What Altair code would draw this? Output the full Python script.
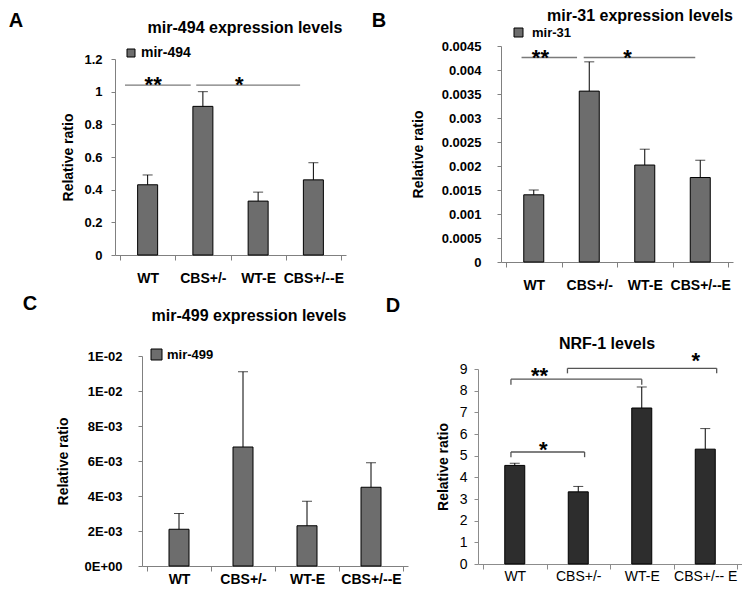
import altair as alt
import pandas as pd

FONT = "Liberation Sans"

# ---------------- data ----------------
CATS = ["WT", "CBS+/-", "WT-E", "CBS+/--E"]
CATS_D = ["WT", "CBS+/-", "WT-E", "CBS+/-- E"]

A_MEAN = [0.43, 0.91, 0.33, 0.46]
A_TOP = [0.49, 1.0, 0.385, 0.565]
B_MEAN = [0.0014, 0.00356, 0.00202, 0.00176]
B_TOP = [0.0015, 0.00417, 0.00235, 0.00212]
C_MEAN = [0.0021, 0.0068, 0.0023, 0.0045]
C_TOP = [0.0030, 0.0111, 0.0037, 0.0059]
D_MEAN = [4.55, 3.33, 7.2, 5.3]
D_TOP = [4.65, 3.58, 8.17, 6.25]

A_TICKS = [0, 0.2, 0.4, 0.6, 0.8, 1.0, 1.2]
B_TICKS = [0, 0.0005, 0.001, 0.0015, 0.002, 0.0025, 0.003, 0.0035, 0.004, 0.0045]
C_TICKS = [0, 0.002, 0.004, 0.006, 0.008, 0.010, 0.012]
C_TICK_LABELS = ["0E+00", "2E-03", "4E-03", "6E-03", "8E-03", "1E-02", "1E-02"]
D_TICKS = [0, 1, 2, 3, 4, 5, 6, 7, 8, 9]
X_TICKS = [0, 0.5, 1, 1.5, 2, 2.5, 3, 3.5, 4]  # category edges + centres

# significance marks, x in category units (0..4), y in data units
A_SIG_LINES = [[0.09, 1.28, 1.04, 1.04], [1.38, 3.26, 1.04, 1.04]]
A_SIG_STARS = [[0.60, 1.067, "**"], [2.16, 1.067, "*"]]
B_SIG_LINES = [[0.28, 1.28, 0.00426, 0.00426], [1.40, 3.41, 0.00426, 0.00426]]
B_SIG_STARS = [[0.62, 0.00433, "**"], [2.19, 0.00433, "*"]]
D_SIG_LINES = [
    [0.44, 2.5, 8.53, 8.53], [0.44, 0.44, 8.53, 8.27], [2.5, 2.5, 8.53, 8.27],
    [1.33, 3.68, 9.03, 9.03], [1.33, 1.33, 9.03, 8.8], [3.68, 3.68, 9.03, 8.8],
    [0.44, 1.6, 5.17, 5.17], [0.44, 0.44, 5.17, 4.93], [1.6, 1.6, 5.17, 4.93],
]
D_SIG_STARS = [[0.89, 8.86, "**"], [3.35, 9.55, "*"], [0.95, 5.45, "*"]]

W, H = 734, 580


def js_array(items):
    return "[" + ",".join("'" + s + "'" for s in items) + "]"


def make_panel(cats, mean, top, ticks, ydom, xr, yr, title, title_xy, letter, letter_xy,
               fill, bold, series=None, legend_xy=None, legend_sym=64, legend_off=3,
               legend_size=13, sig_lines=None, sig_stars=None, sig_color="#7a7a7a",
               label_expr=None, y_lab_pad=8, y_title_pad=8, x_lab_pad=11,
               axis_color="#808080", lab_size=13, xlab_size=14):
    weight = "bold" if bold else "normal"
    df = pd.DataFrame({"group": cats, "pos": [i + 0.5 for i in range(len(cats))],
                       "mean": mean, "top": top})
    if series:
        df["series"] = series
    xs = alt.Scale(domain=[0, 4], range=xr, nice=False, zero=False)
    ys = alt.Scale(domain=ydom, range=yr, nice=False)
    yaxis_kw = dict(orient="left", offset=-xr[0], values=ticks, title="Relative ratio",
                    titleFont=FONT, titleFontSize=14, titleFontWeight="bold", titleColor="black",
                    titlePadding=y_title_pad, labelFont=FONT, labelFontSize=lab_size,
                    labelFontWeight=weight, labelColor="black", labelPadding=y_lab_pad,
                    tickSize=4, domainColor=axis_color, tickColor=axis_color, grid=False)
    if label_expr:
        yaxis_kw["labelExpr"] = label_expr
    else:
        yaxis_kw["format"] = "~g"
    x_expr = "datum.value % 1 == 0 ? '' : " + js_array(cats) + "[floor(datum.value)]"
    xaxis = alt.Axis(orient="bottom", offset=yr[0] - H, title=None, values=X_TICKS,
                     labelExpr=x_expr,
                     tickOpacity={"condition": {"test": "datum.value % 1 != 0", "value": 0},
                                  "value": 1},
                     labelAngle=0, labelFont=FONT, labelFontSize=xlab_size,
                     labelFontWeight=weight, labelColor="black", labelPadding=x_lab_pad,
                     labelOverlap=False, labelFlush=False, tickSize=5,
                     domainColor=axis_color, tickColor=axis_color, grid=False)
    base = alt.Chart(df)
    if series:
        color = alt.Color("series:N", scale=alt.Scale(domain=[series], range=[fill]),
                          legend=alt.Legend(title=None, orient="none", legendX=legend_xy[0],
                                            legendY=legend_xy[1], padding=0,
                                            symbolType="square", symbolSize=legend_sym,
                                            symbolStrokeColor="black", symbolStrokeWidth=1,
                                            symbolOpacity=1, labelFont=FONT,
                                            labelFontSize=legend_size,
                                            labelFontWeight="bold", labelColor="black",
                                            labelOffset=legend_off))
    else:
        color = alt.value(fill)
    bars = base.mark_bar(size=20, stroke="black", strokeWidth=1, opacity=1,
                         orient="vertical").encode(
        x=alt.X("pos:Q", scale=xs, axis=xaxis),
        y=alt.Y("mean:Q", scale=ys, axis=alt.Axis(**yaxis_kw)),
        color=color,
    )
    err = base.mark_rule(color="black", strokeWidth=1).encode(
        x=alt.X("pos:Q", scale=xs),
        y=alt.Y("mean:Q", scale=ys),
        y2="top:Q",
    )
    cap = base.mark_tick(color="black", thickness=1, size=10, orient="horizontal").encode(
        x=alt.X("pos:Q", scale=xs),
        y=alt.Y("top:Q", scale=ys),
    )
    layers = [bars, err, cap]
    if sig_lines:
        ldf = pd.DataFrame(sig_lines, columns=["x", "x2", "y", "y2"])
        sdf = pd.DataFrame(sig_stars, columns=["x", "y", "t"])
        lines = alt.Chart(ldf).mark_rule(color=sig_color, strokeWidth=1.3).encode(
            x=alt.X("x:Q", scale=xs), x2="x2:Q",
            y=alt.Y("y:Q", scale=ys), y2="y2:Q",
        )
        stars = alt.Chart(sdf).mark_text(font=FONT, fontSize=22, fontWeight="bold",
                                         baseline="alphabetic", dy=11, color="black").encode(
            x=alt.X("x:Q", scale=xs),
            y=alt.Y("y:Q", scale=ys),
            text="t:N",
        )
        layers += [lines, stars]
    tdf = pd.DataFrame({"t": [title]})
    ttl = alt.Chart(tdf).mark_text(font=FONT, fontSize=16, fontWeight="bold", color="black",
                                   align="center", baseline="middle").encode(
        x=alt.value(title_xy[0]), y=alt.value(title_xy[1]), text="t:N")
    ldf2 = pd.DataFrame({"t": [letter]})
    let = alt.Chart(ldf2).mark_text(font=FONT, fontSize=20, fontWeight="bold", color="black",
                                    align="center", baseline="middle").encode(
        x=alt.value(letter_xy[0]), y=alt.value(letter_xy[1]), text="t:N")
    layers += [ttl, let]
    return alt.layer(*layers)


c_expr = js_array(C_TICK_LABELS) + "[round(datum.value / 0.002)]"

pA = make_panel(CATS, A_MEAN, A_TOP, A_TICKS, [0, 1.2], [107, 338], [246, 50],
                "mir-494 expression levels", (237, 19), "A", (8, 12), "#6d6d6d", True,
                series="mir-494", legend_xy=(116, 37), legend_sym=64, legend_off=3,
                legend_size=14, sig_lines=A_SIG_LINES, sig_stars=A_SIG_STARS,
                y_lab_pad=9, y_title_pad=8)
pB = make_panel(CATS, B_MEAN, B_TOP, B_TICKS, [0, 0.0045], [493, 725], [253, 37],
                "mir-31 expression levels", (632, 7), "B", (371, 12), "#6d6d6d", True,
                series="mir-31", legend_xy=(504, 17), legend_sym=81, legend_off=7,
                sig_lines=B_SIG_LINES, sig_stars=B_SIG_STARS, y_lab_pad=16, y_title_pad=16)
pC = make_panel(CATS, C_MEAN, C_TOP, C_TICKS, [0, 0.012], [134, 400], [557, 347],
                "mir-499 expression levels", (241, 307), "C", (22, 295), "#6d6d6d", True,
                series="mir-499", legend_xy=(142, 339), legend_sym=121, legend_off=4,
                label_expr=c_expr, y_lab_pad=16, y_title_pad=14, x_lab_pad=1)
pD = make_panel(CATS_D, D_MEAN, D_TOP, D_TICKS, [0, 9], [470, 734], [555, 360],
                "NRF-1 levels", (599, 335), "D", (385, 297), "#2d2d2d", False,
                sig_lines=D_SIG_LINES, sig_stars=D_SIG_STARS, sig_color="#555555",
                y_lab_pad=7, y_title_pad=9, x_lab_pad=0, axis_color="#8c8c8c",
                lab_size=14, xlab_size=14)

chart = (
    alt.layer(pA, pB, pC, pD)
    .resolve_scale(x="independent", y="independent", color="independent")
    .resolve_axis(x="independent", y="independent")
    .resolve_legend(color="independent")
    .properties(width=W, height=H, padding=0, background="white")
    .configure_view(stroke=None)
)

chart.save("out.html", embed_options={"renderer": "svg", "actions": False})
